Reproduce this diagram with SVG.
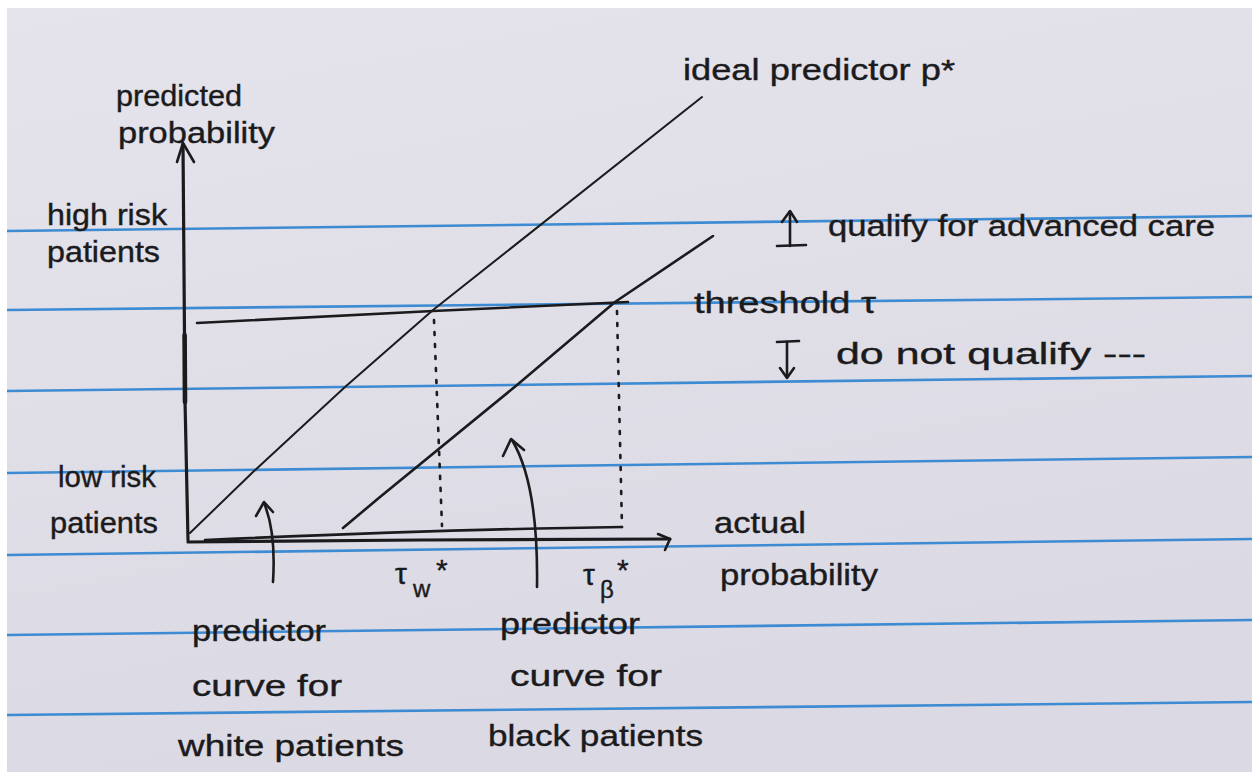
<svg xmlns="http://www.w3.org/2000/svg" width="1252" height="774" viewBox="0 0 1252 774">
  <defs>
    <linearGradient id="paper" x1="0" y1="0" x2="0.3" y2="1">
      <stop offset="0" stop-color="#e5e3eb"/>
      <stop offset="1" stop-color="#dbd9e3"/>
    </linearGradient>
  </defs>
  <style>
    .rule { stroke: #3d8bd2; stroke-width: 2.6; fill: none; }
    .ink { stroke: #1b1b1d; fill: none; stroke-linecap: round; stroke-linejoin: round; }
    .thin { stroke-width: 2; }
    .med { stroke-width: 2.6; }
    .thick { stroke-width: 3.2; }
    .dot { stroke-width: 2.6; stroke-dasharray: 3 9; }
    text { font-family: "Liberation Sans", "DejaVu Sans", sans-serif; fill: #1b1b1d; stroke: #1b1b1d; stroke-width: 0.4; font-size: 30px; }
  </style>

  <!-- background & paper -->
  <rect x="0" y="0" width="1252" height="774" fill="#ffffff"/>
  <rect x="7" y="8" width="1245" height="764" fill="url(#paper)"/>

  <!-- ruled lines -->
  <g id="ruled-lines">
    <line class="rule" x1="7" y1="231" x2="1252" y2="216"/>
    <line class="rule" x1="7" y1="310" x2="1252" y2="297"/>
    <line class="rule" x1="7" y1="391" x2="1252" y2="376"/>
    <line class="rule" x1="7" y1="473" x2="1252" y2="457"/>
    <line class="rule" x1="7" y1="555" x2="1252" y2="539"/>
    <line class="rule" x1="7" y1="635" x2="1252" y2="620"/>
    <line class="rule" x1="7" y1="715" x2="1252" y2="702"/>
  </g>

  <!-- connectors: axes, curves, threshold, dotted guides, pointer arrows -->
  <g id="connectors">
    <!-- y axis -->
    <path class="ink thick" d="M188,540 L185,400 L183,144"/>
    <path class="ink" d="M184.6,335 L185,402" stroke-width="4.6"/>
    <path class="ink med" d="M177,162 L183,143 L194,162"/>
    <!-- x axis -->
    <path class="ink thick" d="M188,542 L420,540 L670,539"/>
    <path class="ink med" d="M658,534 L670,539 L665,550"/>
    <!-- lower part of black predictor along axis -->
    <path class="ink med" d="M205,540 C 320,535 460,529 622,527"/>
    <!-- ideal predictor -->
    <path class="ink thin" d="M190,533 L253,472 L345,387 L433,310 L702,97"/>
    <!-- black predictor curve -->
    <path class="ink med" d="M343,528 L380,497 L517,385 L615,302 L713,236"/>
    <!-- threshold -->
    <path class="ink med" d="M197,323 L433,311 L628,302"/>
    <!-- dotted guides -->
    <path class="ink dot" d="M434,320 L442,526"/>
    <path class="ink dot" d="M617,311 L622,527"/>
    <!-- pointer arrows -->
    <path class="ink med" d="M273,582 C 275,550 272,522 264,503"/>
    <path class="ink med" d="M256,516 L264,502 L273,512"/>
    <path class="ink med" d="M537,587 C 538,520 530,470 512,440"/>
    <path class="ink med" d="M503,456 L511,439 L524,450"/>
    <!-- qualify / don't qualify arrows -->
    <path class="ink med" d="M790,246 L790,212"/>
    <path class="ink med" d="M782,222 L790,211 L797,222"/>
    <path class="ink med" d="M777,246 L806,245"/>
    <path class="ink med" d="M777,342 L799,341"/>
    <path class="ink med" d="M787,342 L787,377"/>
    <path class="ink med" d="M780,368 L787,378 L794,368"/>
  </g>

  <!-- labels -->
  <g id="y-axis-label">
    <text x="116" y="106" textLength="126" lengthAdjust="spacingAndGlyphs">predicted</text>
    <text x="118" y="143" textLength="157" lengthAdjust="spacingAndGlyphs">probability</text>
  </g>
  <g id="high-risk-label">
    <text x="47" y="225" font-size="28" textLength="120" lengthAdjust="spacingAndGlyphs">high risk</text>
    <text x="47" y="262" font-size="28" textLength="113" lengthAdjust="spacingAndGlyphs">patients</text>
  </g>
  <g id="low-risk-label">
    <text x="58" y="487" font-size="26" textLength="98" lengthAdjust="spacingAndGlyphs">low risk</text>
    <text x="50" y="533" font-size="26" textLength="108" lengthAdjust="spacingAndGlyphs">patients</text>
  </g>
  <g id="x-axis-label">
    <text x="714" y="533" font-size="28" textLength="92" lengthAdjust="spacingAndGlyphs">actual</text>
    <text x="720" y="585" textLength="158" lengthAdjust="spacingAndGlyphs">probability</text>
  </g>
  <g id="tau-w">
    <text font-size="46"><tspan x="395" y="584">τ</tspan><tspan x="413" y="597" font-size="24">w</tspan><tspan x="436" y="580" font-size="30">*</tspan></text>
  </g>
  <g id="tau-b">
    <text font-size="46"><tspan x="583" y="585">τ</tspan><tspan x="600" y="598" font-size="24">β</tspan><tspan x="617" y="580" font-size="30">*</tspan></text>
  </g>
  <g id="white-curve-label">
    <text x="192" y="641" textLength="134" lengthAdjust="spacingAndGlyphs">predictor</text>
    <text x="192" y="696" textLength="150" lengthAdjust="spacingAndGlyphs">curve for</text>
    <text x="178" y="756" textLength="226" lengthAdjust="spacingAndGlyphs">white patients</text>
  </g>
  <g id="black-curve-label">
    <text x="500" y="634" textLength="140" lengthAdjust="spacingAndGlyphs">predictor</text>
    <text x="510" y="686" textLength="152" lengthAdjust="spacingAndGlyphs">curve for</text>
    <text x="488" y="746" textLength="215" lengthAdjust="spacingAndGlyphs">black patients</text>
  </g>
  <g id="ideal-label">
    <text x="683" y="80" font-size="32" textLength="272" lengthAdjust="spacingAndGlyphs">ideal predictor p*</text>
  </g>
  <g id="qualify-label">
    <text x="828" y="236" textLength="387" lengthAdjust="spacingAndGlyphs">qualify for advanced care</text>
  </g>
  <g id="threshold-label">
    <text x="694" y="313" textLength="182" lengthAdjust="spacingAndGlyphs">threshold τ</text>
  </g>
  <g id="not-qualify-label">
    <text x="836" y="364" textLength="310" lengthAdjust="spacingAndGlyphs">do not qualify ---</text>
  </g>
</svg>
